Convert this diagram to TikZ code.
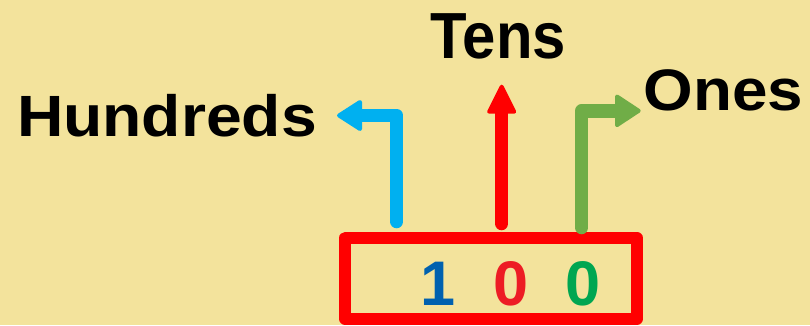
\documentclass[tikz,border=0pt]{standalone}
\usepackage{fontspec}
\setmainfont{Liberation Sans}
\usetikzlibrary{calc}

\definecolor{paper}{HTML}{F3E39C}
\definecolor{hundredsblue}{HTML}{00B0F0}
\definecolor{tensred}{HTML}{FF0000}
\definecolor{onesgreen}{HTML}{70AD47}
\definecolor{digitblue}{HTML}{0061AF}
\definecolor{digitred}{HTML}{ED1C24}
\definecolor{digitgreen}{HTML}{00A651}

\begin{document}
\begin{tikzpicture}[x=1pt,y=-1pt,
  placelabel/.style={inner sep=0pt, anchor=base, font=\bfseries},
  digit/.style={inner sep=0pt, anchor=base, font=\bfseries\fontsize{63}{63}\selectfont},
  shaft/.style={line width=13.5pt, line cap=round, line join=round},
  head/.style={line width=4pt, line join=round},
  framebox/.style={draw=tensred, line width=12pt, line join=round, inner sep=0pt,
    minimum width=291.6pt, minimum height=81pt}
]
% page
\fill[paper] (0,0) rectangle (810,325);
\useasboundingbox (0,0) rectangle (810,325);

% the number in its frame
\node[framebox] (box) at (491,278.3) {};

% arrow end points
\coordinate (hTail) at (396.7,221.5);
\coordinate (hTip)  at (335,115.5);
\coordinate (tTail) at (501.7,223.5);
\coordinate (tTip)  at (501.7,82.7);
\coordinate (oTail) at (581.7,227.5);
\coordinate (oTip)  at (642.7,110.8);

% hundreds arrow: up, then left
\draw[shaft, hundredsblue] (hTail) |- ($(hTip)+(25,0)$);
\filldraw[head, hundredsblue] ($(hTip)+(4,0)$) -- ($(hTip)+(25,-13.5)$) -- ($(hTip)+(25,13.5)$) -- cycle;

% tens arrow: straight up
\draw[shaft, tensred] (tTail) -- ($(tTip)+(0,29)$);
\filldraw[head, tensred] ($(tTip)+(0,4)$) -- ($(tTip)+(-12.5,29)$) -- ($(tTip)+(12.5,29)$) -- cycle;

% ones arrow: up, then right
\draw[shaft, onesgreen] (oTail) |- ($(oTip)+(-25.7,0)$);
\filldraw[head, onesgreen] ($(oTip)+(-4,0)$) -- ($(oTip)+(-25.7,-14.3)$) -- ($(oTip)+(-25.7,14.3)$) -- cycle;

% digits
\node[digit, text=digitblue]  (d1) at (438,305) {1};
\node[digit, text=digitred]   (d2) at (511,305) {0};
\node[digit, text=digitgreen] (d3) at (583,305) {0};

% place names
\node[placelabel, xscale=1.104, font=\bfseries\fontsize{58.2}{58.2}\selectfont] (hundreds) at (167,136.7) {Hundreds};
\node[placelabel, xscale=0.918, font=\bfseries\fontsize{65.2}{65.2}\selectfont] (tens) at (498.3,58.3) {Tens};
\node[placelabel, xscale=1.09, font=\bfseries\fontsize{58.5}{58.5}\selectfont] (ones) at (723.7,110.5) {Ones};
\end{tikzpicture}
\end{document}
